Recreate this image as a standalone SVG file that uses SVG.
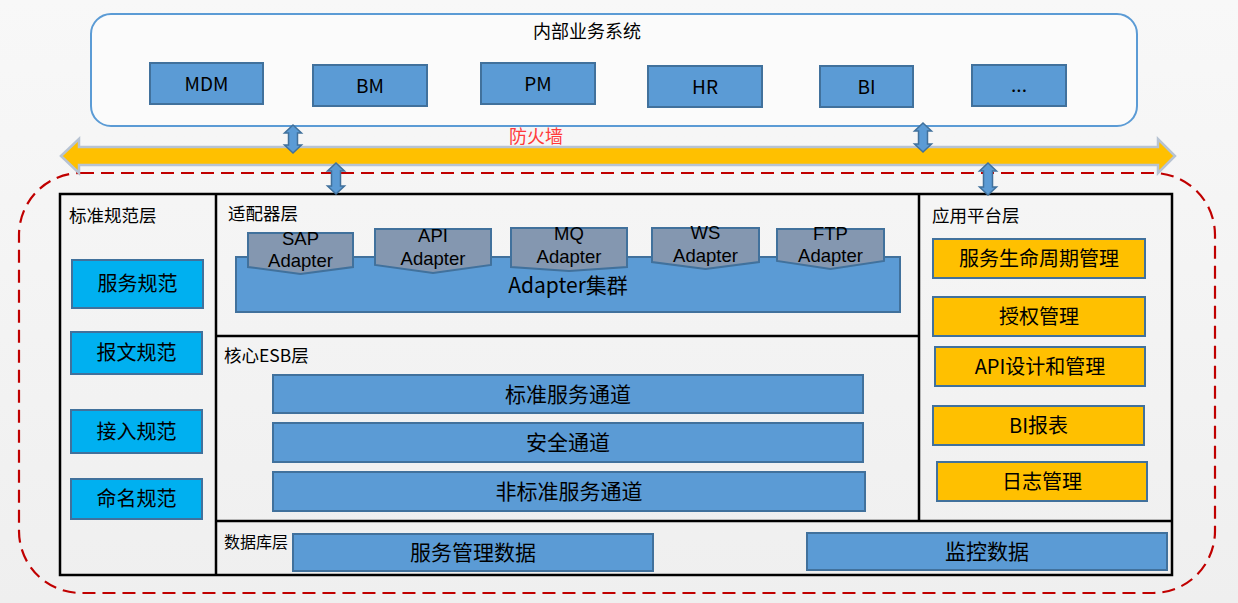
<svg xmlns="http://www.w3.org/2000/svg" width="1238" height="603" viewBox="0 0 1238 603">
<defs>
<linearGradient id="bg" x1="0" y1="0" x2="0" y2="1">
<stop offset="0" stop-color="#f8f8f8"/>
<stop offset="1" stop-color="#efefef"/>
</linearGradient>
<style>
text{font-family:"Noto Sans CJK SC","Noto Sans",sans-serif;fill:#000;}
.blue{fill:#5b9bd5;stroke:#41719c;stroke-width:2;}
.cyan{fill:#00b0f0;stroke:#41719c;stroke-width:2;}
.gold{fill:#ffc000;stroke:#41719c;stroke-width:2;}
.gray{fill:#8497b0;stroke:#41719c;stroke-width:2;}
.c{text-anchor:middle;}
.t19{font-size:19px;}
.t20{font-size:20px;}
.t21{font-size:21px;}
.t18{font-size:18px;}
.ad{font-family:"Liberation Sans",Arial,sans-serif;font-size:18.5px;text-anchor:middle;}
.lbl{font-size:17.5px;}
.frame{fill:none;stroke:#000;stroke-width:2.5;}
.sep{stroke:#000;stroke-width:2.5;fill:none;}
.dbl{fill:#5b9bd5;stroke:#41719c;stroke-width:1.5;}
</style>
</defs>
<rect x="0" y="0" width="1238" height="603" fill="url(#bg)"/>

<!-- outer dashed ESB boundary -->
<rect x="19" y="173" width="1196" height="420" rx="62" ry="62" fill="none" stroke="#c00000" stroke-width="2.2" stroke-dasharray="13 7"/>

<!-- internal business system -->
<g id="internal-systems">
<rect x="91" y="14" width="1046" height="112" rx="20" ry="20" fill="#fbfbfb" stroke="#5b9bd5" stroke-width="2"/>
<text x="587" y="38" class="c t18">内部业务系统</text>
</g>
<g id="sys-mdm"><rect x="150" y="63" width="113" height="41" class="blue"/><text x="206.5" y="91" class="c t19">MDM</text></g>
<g id="sys-bm"><rect x="313" y="65" width="114" height="41" class="blue"/><text x="370" y="93" class="c t19">BM</text></g>
<g id="sys-pm"><rect x="481" y="63" width="114" height="41" class="blue"/><text x="538" y="91" class="c t19">PM</text></g>
<g id="sys-hr"><rect x="648" y="66" width="114" height="41" class="blue"/><text x="705" y="94" class="c t19">HR</text></g>
<g id="sys-bi"><rect x="820" y="66" width="93" height="41" class="blue"/><text x="866.5" y="94" class="c t19">BI</text></g>
<g id="sys-more"><rect x="972" y="65" width="94" height="41" class="blue"/><text x="1019" y="92" class="c t19">...</text></g>

<!-- main frame -->
<g id="main-frame">
<rect x="60" y="194" width="1112" height="381" class="frame"/>
<line x1="216" y1="194" x2="216" y2="575" class="sep"/>
<line x1="919" y1="194" x2="919" y2="521" class="sep"/>
<line x1="216" y1="336" x2="919" y2="336" class="sep"/>
<line x1="216" y1="521" x2="1172" y2="521" class="sep"/>
</g>

<!-- standard layer -->
<g id="std-layer">
<text x="69" y="222" class="lbl">标准规范层</text>
</g>
<g id="std-service"><rect x="72" y="260" width="131" height="48" class="cyan"/><text x="137.5" y="291" class="c t20">服务规范</text></g>
<g id="std-message"><rect x="71" y="332" width="131" height="42" class="cyan"/><text x="136.5" y="360" class="c t20">报文规范</text></g>
<g id="std-access"><rect x="71" y="410" width="131" height="43" class="cyan"/><text x="136.5" y="439" class="c t20">接入规范</text></g>
<g id="std-naming"><rect x="71" y="479" width="131" height="40" class="cyan"/><text x="136.5" y="506" class="c t20">命名规范</text></g>

<!-- adapter layer -->
<g id="adapter-layer">
<text x="228" y="220" class="lbl">适配器层</text>
</g>
<g id="adapter-cluster"><rect x="236" y="257" width="664" height="55" class="blue"/><text x="568" y="293" class="c t21">Adapter集群</text></g>
<g id="adapter-sap"><path d="M248,233 H353 V267 L300.5,274 L248,267 Z" class="gray"/><text x="300.5" y="245" class="ad">SAP</text><text x="300.5" y="267" class="ad">Adapter</text></g>
<g id="adapter-api"><path d="M375,229 H491 V265 L433,273 L375,265 Z" class="gray"/><text x="433" y="242" class="ad">API</text><text x="433" y="265" class="ad">Adapter</text></g>
<g id="adapter-mq"><path d="M511,228 H627 V267 L569,271 L511,267 Z" class="gray"/><text x="569" y="240" class="ad">MQ</text><text x="569" y="263" class="ad">Adapter</text></g>
<g id="adapter-ws"><path d="M652,228 H759 V262 L705.5,269 L652,262 Z" class="gray"/><text x="705.5" y="239" class="ad">WS</text><text x="705.5" y="262" class="ad">Adapter</text></g>
<g id="adapter-ftp"><path d="M777,229 H884 V261 L830.5,269 L777,261 Z" class="gray"/><text x="830.5" y="240" class="ad">FTP</text><text x="830.5" y="262" class="ad">Adapter</text></g>

<!-- core ESB layer -->
<g id="esb-layer">
<text x="224" y="362" class="lbl">核心ESB层</text>
</g>
<g id="esb-standard"><rect x="273" y="375" width="590" height="38" class="blue"/><text x="568" y="402" class="c t21">标准服务通道</text></g>
<g id="esb-security"><rect x="273" y="423" width="590" height="39" class="blue"/><text x="568" y="450" class="c t21">安全通道</text></g>
<g id="esb-nonstandard"><rect x="273" y="472" width="592" height="39" class="blue"/><text x="569" y="499" class="c t21">非标准服务通道</text></g>

<!-- application platform layer -->
<g id="app-layer">
<text x="932" y="222" class="lbl">应用平台层</text>
</g>
<g id="app-lifecycle"><rect x="933" y="239" width="212" height="39" class="gold"/><text x="1039" y="266" class="c t20">服务生命周期管理</text></g>
<g id="app-auth"><rect x="933" y="297" width="212" height="39" class="gold"/><text x="1039" y="324" class="c t20">授权管理</text></g>
<g id="app-api"><rect x="935" y="347" width="210" height="39" class="gold"/><text x="1040" y="374" class="c t20">API设计和管理</text></g>
<g id="app-bi"><rect x="933" y="406" width="211" height="39" class="gold"/><text x="1038.5" y="433" class="c t20">BI报表</text></g>
<g id="app-log"><rect x="937" y="462" width="210" height="39" class="gold"/><text x="1042" y="489" class="c t20">日志管理</text></g>

<!-- database layer -->
<g id="db-layer">
<text x="224" y="548" font-size="16">数据库层</text>
</g>
<g id="db-service"><rect x="293" y="534" width="360" height="37" class="blue"/><text x="473" y="560" class="c t21">服务管理数据</text></g>
<g id="db-monitor"><rect x="807" y="533" width="360" height="37" class="blue"/><text x="987" y="559" class="c t21">监控数据</text></g>

<!-- connectors -->
<g id="connectors">
<polygon points="61,156 79,139 79,147 1158,147 1158,139 1175,156 1158,173 1158,165 79,165 79,173" fill="#ffc000" stroke="#b7c3d3" stroke-width="2.5" stroke-linejoin="miter"/>
<text x="536" y="143" class="c" font-size="18" style="fill:#ff3b3b">防火墙</text>
<path d="M293,125 L301.5,133 L297.5,133 L297.5,145 L301.5,145 L293,153 L284.5,145 L288.5,145 L288.5,133 L284.5,133 Z" class="dbl"/>
<path d="M923,123 L931.5,131 L927.5,131 L927.5,144 L931.5,144 L923,152 L914.5,144 L918.5,144 L918.5,131 L914.5,131 Z" class="dbl"/>
<path d="M336,163 L344.5,171 L340.5,171 L340.5,186 L344.5,186 L336,194 L327.5,186 L331.5,186 L331.5,171 L327.5,171 Z" class="dbl"/>
<path d="M988,163 L996.5,171 L992.5,171 L992.5,187 L996.5,187 L988,195 L979.5,187 L983.5,187 L983.5,171 L979.5,171 Z" class="dbl"/>
</g>
</svg>
